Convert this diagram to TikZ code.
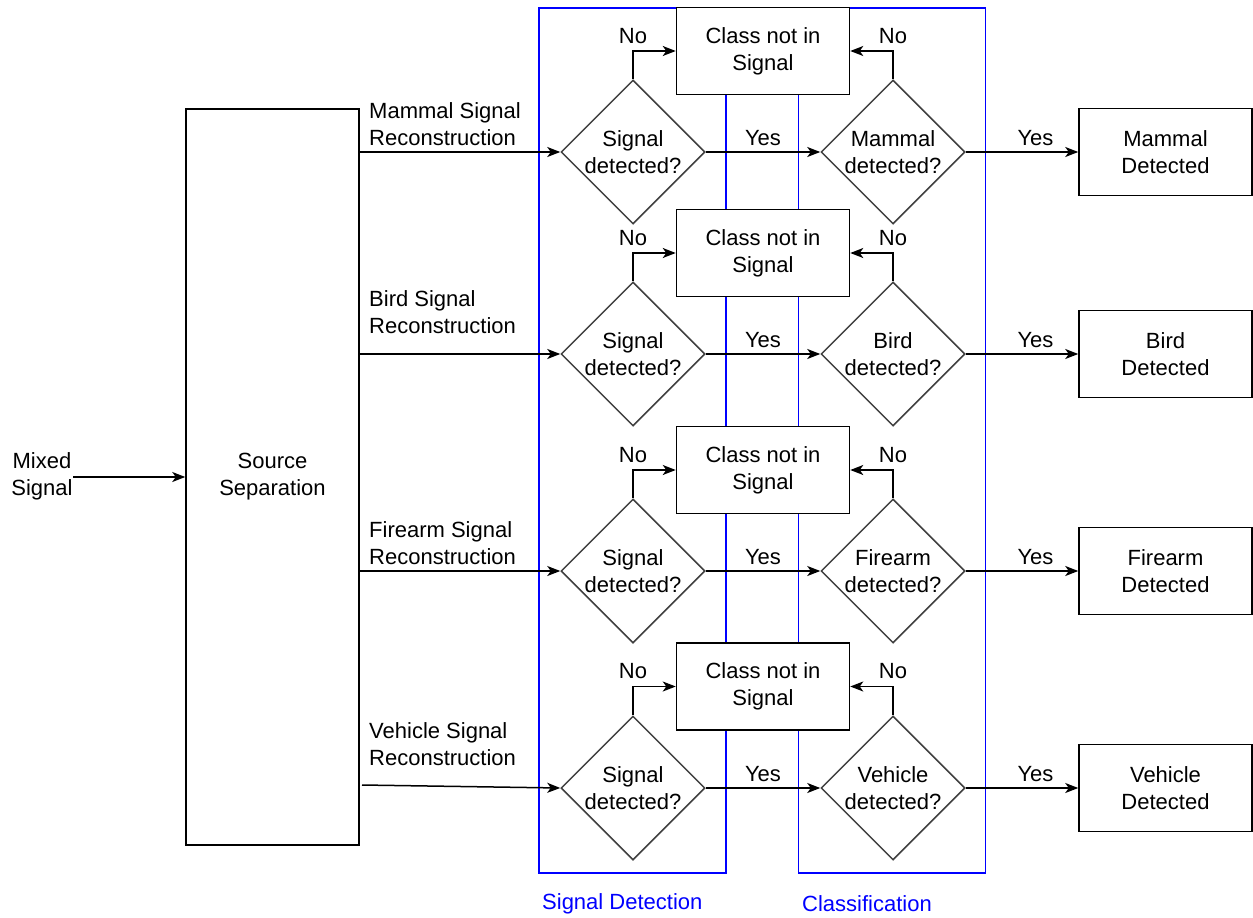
\documentclass[tikz,border=0pt]{standalone}
\usepackage{fontspec}
\setmainfont{Liberation Sans}
\usetikzlibrary{shapes.geometric,arrows.meta}
\begin{document}
\begin{tikzpicture}[x=1pt,y=-1pt,
  every node/.style={font=\fontsize{22}{27}\selectfont, inner sep=0pt},
  box/.style={draw=black, line width=1.5pt, fill=white, minimum width=173pt, minimum height=87pt, align=center},
  dia/.style={draw=black!75, line width=1.5pt, fill=white, shape=diamond, minimum width=144pt, minimum height=144pt},
  txt/.style={align=center},
  ltxt/.style={align=left, anchor=west},
  arr/.style={draw=black, line width=1.5pt, -{Stealth[length=13pt,width=10pt,inset=3.5pt]}},
  grp/.style={draw=blue, line width=1.5pt, minimum width=187pt, minimum height=865pt},
  grplab/.style={text=blue, anchor=west}
]
\useasboundingbox (0,0) rectangle (1253,918);
% group boxes
\node[grp] (sd) at (632.5,440.5) {};
\node[grp] (cl) at (892,440.5) {};
\node[grplab] (sdl) at (542,904) {Signal Detection};
\node[grplab] (cll) at (802,904) {Classification};

% mixed signal and source separation
\node[txt] (mix) at (42,476.5) {Mixed\\Signal};
\node[box, minimum height=736pt] (src) at (272.5,477) {Source\\Separation};
\coordinate (ms) at (73,477);
\draw[arr] (ms) -- (src.west);

% rows
\foreach \i/\y/\ly/\cls/\lab in {1/152/124/Mammal/Mammal Signal, 2/354/312.5/Bird/Bird Signal, 3/571/543.5/Firearm/Firearm Signal}{
  \node[dia] (da\i) at (633,\y) {};
  \node[txt] (dat\i) at (da\i) {Signal\\detected?};
  \node[dia] (db\i) at (893,\y) {};
  \node[txt] (dbt\i) at (db\i) {\cls\\detected?};
  \node[box] (c\i) at (763,\y-101) {Class not in\\Signal};
  \node[box] (r\i) at (1165.5,\y) {\cls\\Detected};
  \node[ltxt] (l\i) at (369,\ly) {\lab\\Reconstruction};
  \draw[arr] (src.east |- da\i) -- (da\i.west);
  \draw[arr] (da\i.east) -- (db\i.west) node[pos=0.5, yshift=14pt] (ya\i) {Yes};
  \draw[arr] (db\i.east) -- (r\i.west) node[pos=0.62, yshift=14pt] (yb\i) {Yes};
  \draw[arr] (da\i.north) |- (c\i.west);
  \draw[arr] (db\i.north) |- (c\i.east);
  \node (na\i) at ([yshift=15pt]da\i.north |- c\i.west) {No};
  \node (nb\i) at ([yshift=15pt]db\i.north |- c\i.east) {No};
}
% row 4
\node[dia] (da4) at (633,788) {};
\node[txt] (dat4) at (da4) {Signal\\detected?};
\node[dia] (db4) at (893,788) {};
\node[txt] (dbt4) at (db4) {Vehicle\\detected?};
\node[box] (c4) at (763,686.5) {Class not in\\Signal};
\node[box] (r4) at (1165.5,788) {Vehicle\\Detected};
\node[ltxt] (l4) at (369,744.5) {Vehicle Signal\\Reconstruction};
\coordinate (r4s) at (362,785);
\draw[arr] (r4s) -- (da4.west);
\draw[arr] (da4.east) -- (db4.west) node[pos=0.5, yshift=14pt] (ya4) {Yes};
\draw[arr] (db4.east) -- (r4.west) node[pos=0.62, yshift=14pt] (yb4) {Yes};
\draw[arr] (da4.north) |- (c4.west);
\draw[arr] (db4.north) |- (c4.east);
\node (na4) at ([yshift=15pt]da4.north |- c4.west) {No};
\node (nb4) at ([yshift=15pt]db4.north |- c4.east) {No};
\end{tikzpicture}
\end{document}
